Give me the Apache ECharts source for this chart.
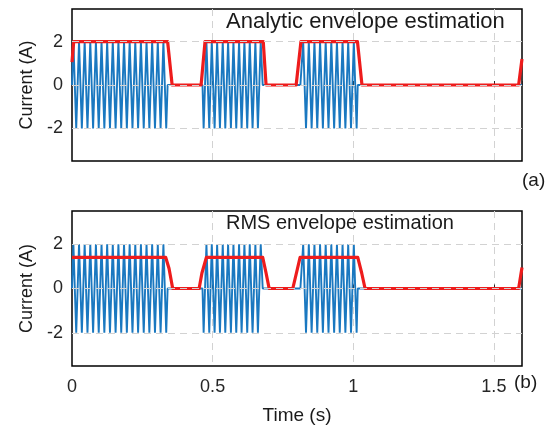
<!DOCTYPE html>
<html>
<head>
<meta charset="utf-8">
<script src="https://cdn.jsdelivr.net/npm/echarts@6/dist/echarts.min.js"></script>
<style>
  html, body { margin: 0; padding: 0; background: #fff; }
  #chart { width: 557px; height: 430px; }
</style>
</head>
<body>
<div id="chart"></div>
<script>
// axis ticks
const timeTicks = [0, 0.5, 1, 1.5];
const currentTicks = [-2, 0, 2];

// bursts of the 50 Hz current, [start, end] in s
const burstWindows = [[0, 0.34], [0.464, 0.678], [0.812, 1.016]];
// times of the +2 A peaks and -2 A troughs inside each burst
const peakTimes = [
  [0.005, 0.025, 0.045, 0.065, 0.085, 0.105, 0.125, 0.145, 0.165, 0.185, 0.205, 0.225, 0.245, 0.265, 0.285, 0.305, 0.325],
  [0.478, 0.497, 0.516, 0.536, 0.555, 0.574, 0.594, 0.613, 0.632, 0.652, 0.671],
  [0.822, 0.842, 0.862, 0.882, 0.902, 0.922, 0.942, 0.962, 0.982, 1.002]
];
const troughTimes = [
  [0.015, 0.035, 0.055, 0.075, 0.095, 0.115, 0.135, 0.155, 0.175, 0.195, 0.215, 0.235, 0.255, 0.275, 0.295, 0.315, 0.335],
  [0.468, 0.488, 0.507, 0.526, 0.545, 0.565, 0.584, 0.603, 0.623, 0.642, 0.661],
  [0.832, 0.852, 0.872, 0.892, 0.912, 0.932, 0.952, 0.972, 0.992, 1.012]
];
const peakLevel = 2;
const troughLevel = -2;
const endTime = 1.6;

// envelope estimates [t, A]
const analyticEnvelope = [[0, 1.05], [0.006, 2], [0.34, 2], [0.356, 0], [0.459, 0], [0.473, 2], [0.68, 2], [0.69, 0],
  [0.797, 0], [0.814, 2], [1.015, 2], [1.031, 0], [1.588, 0], [1.6, 1.2]];
const rmsEnvelope = [[0, 1.41], [0.333, 1.41], [0.345, 0.9], [0.358, 0], [0.452, 0], [0.462, 0.7], [0.478, 1.41],
  [0.678, 1.41], [0.69, 0.7], [0.701, 0], [0.785, 0], [0.798, 0.7], [0.811, 1.41], [1.016, 1.41], [1.03, 0.7],
  [1.042, 0], [1.588, 0], [1.6, 0.95]];

const FONT = 'Liberation Sans';
const INK = '#262626';
const GRIDLINE = { color: '#d2d2d2', type: [7, 5], width: 1 };

// join the bursts into one current trace
function buildCarrier() {
  let pts = [];
  for (let i = 0; i < burstWindows.length; i++) {
    let burst = [[burstWindows[i][0], 0]];
    peakTimes[i].forEach(t => burst.push([t, peakLevel]));
    troughTimes[i].forEach(t => burst.push([t, troughLevel]));
    burst.push([burstWindows[i][1], 0]);
    burst.sort((a, b) => a[0] - b[0]);
    pts = pts.concat(burst);
  }
  pts.push([endTime, 0]);
  return pts;
}
const carrier = buildCarrier();

function timeAxis(idx, withLabels) {
  return {
    type: 'value', gridIndex: idx, min: 0, max: endTime, interval: 0.5,
    axisLine: { show: false },
    axisTick: { show: true, inside: true, length: 4, lineStyle: { color: INK } },
    axisLabel: {
      show: withLabels, showMaxLabel: false, color: INK, fontSize: 18, fontFamily: FONT, margin: 12,
      formatter: v => timeTicks.indexOf(v) >= 0 ? String(v) : ''
    },
    splitLine: { show: true, showMinLine: false, showMaxLine: false, lineStyle: GRIDLINE },
    name: withLabels ? 'Time (s)' : '',
    nameLocation: 'middle', nameGap: 40,
    nameTextStyle: { color: '#1a1a1a', fontSize: 19, fontFamily: FONT }
  };
}

function currentAxis(idx) {
  return {
    type: 'value', gridIndex: idx, min: -3.5, max: 3.5,
    axisLine: { show: false },
    axisTick: { show: true, inside: true, length: 4, customValues: currentTicks, lineStyle: { color: INK } },
    axisLabel: { customValues: currentTicks, color: INK, fontSize: 18, fontFamily: FONT, margin: 9 },
    splitLine: { show: false },
    name: 'Current (A)', nameLocation: 'middle', nameGap: 33,
    nameTextStyle: { color: '#1a1a1a', fontSize: 18, fontFamily: FONT }
  };
}

function panelSeries(idx, envelope) {
  return [
    {
      // horizontal dashed grid
      type: 'line', xAxisIndex: idx, yAxisIndex: idx, data: [], z: 1, silent: true,
      markLine: {
        silent: true, symbol: 'none', label: { show: false },
        lineStyle: GRIDLINE,
        data: currentTicks.map(v => ({ yAxis: v }))
      }
    },
    {
      type: 'line', xAxisIndex: idx, yAxisIndex: idx, data: carrier, z: 2,
      showSymbol: false, animation: false,
      lineStyle: { color: '#1a78c0', width: 1.9 }
    },
    {
      type: 'line', xAxisIndex: idx, yAxisIndex: idx, data: envelope, z: 3,
      showSymbol: false, animation: false,
      lineStyle: { color: '#ee1c1c', width: 3.2, join: 'round' }
    }
  ];
}

const chart = echarts.init(document.getElementById('chart'), null, { renderer: 'canvas' });
chart.setOption({
  animation: false,
  backgroundColor: '#fff',
  grid: [
    { left: 72, right: 35, top: 9, height: 152, show: true, borderColor: '#000', borderWidth: 1.5, backgroundColor: 'transparent' },
    { left: 72, right: 35, top: 211, height: 155, show: true, borderColor: '#000', borderWidth: 1.5, backgroundColor: 'transparent' }
  ],
  xAxis: [timeAxis(0, false), timeAxis(1, true)],
  yAxis: [currentAxis(0), currentAxis(1)],
  series: panelSeries(0, analyticEnvelope).concat(panelSeries(1, rmsEnvelope)),
  graphic: [
    { type: 'text', left: 226, top: 11, z: 10,
      style: { text: 'Analytic envelope estimation', fill: '#1a1a1a', font: '22px "Liberation Sans"' } },
    { type: 'text', left: 226, top: 213, z: 10,
      style: { text: 'RMS envelope estimation', fill: '#1a1a1a', font: '20px "Liberation Sans"' } },
    { type: 'text', left: 522, top: 171,
      style: { text: '(a)', fill: '#1a1a1a', font: '19px "Liberation Sans"' } },
    { type: 'text', left: 514, top: 373,
      style: { text: '(b)', fill: '#1a1a1a', font: '19px "Liberation Sans"' } }
  ]
});
</script>
</body>
</html>
